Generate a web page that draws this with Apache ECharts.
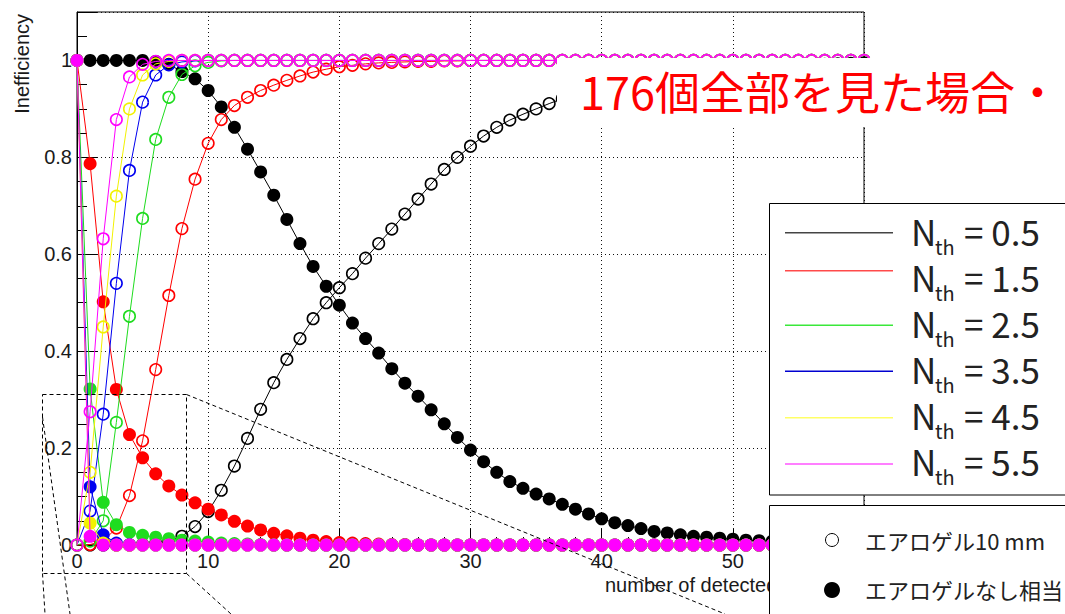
<!DOCTYPE html>
<html>
<head>
<meta charset="utf-8">
<script src="https://cdn.jsdelivr.net/npm/echarts@6/dist/echarts.min.js"></script>
<style>
html, body { margin: 0; padding: 0; background: #fff; }
#chart { width: 1065px; height: 614px; }
</style>
</head>
<body>
<div id="chart"></div>
<script>
// Number of detected photons
const nDetected = [
  0, 1, 2, 3, 4, 5, 6, 7, 8, 9,
  10, 11, 12, 13, 14, 15, 16, 17, 18, 19,
  20, 21, 22, 23, 24, 25, 26, 27, 28, 29,
  30, 31, 32, 33, 34, 35, 36, 37, 38, 39,
  40, 41, 42, 43, 44, 45, 46, 47, 48, 49,
  50, 51, 52, 53, 54, 55, 56, 57, 58, 59,
  60
];

// Thresholds N_th
const thresholds = ['0.5', '1.5', '2.5', '3.5', '4.5', '5.5'];

// Y axis ticks
const yTicks = [0, 0.2, 0.4, 0.6, 0.8, 1];

// Inefficiency with 10 mm aerogel (open markers)
const aerogel05 = [
  0, 0, 0, 0, 0, 0.001, 0.003, 0.008, 0.018, 0.038,
  0.069, 0.113, 0.163, 0.220, 0.280, 0.335, 0.383, 0.426, 0.467, 0.500,
  0.531, 0.560, 0.592, 0.622, 0.652, 0.683, 0.714, 0.745, 0.775, 0.800,
  0.823, 0.844, 0.862, 0.877, 0.889, 0.900, 0.911, 0.921, 0.930, 0.938,
  0.945, 0.951, 0.957, 0.962, 0.966, 0.970, 0.973, 0.976, 0.979, 0.981,
  0.983, 0.985, 0.987, 0.988, 0.989, 0.990, 0.991, 0.992, 0.993, 0.994,
  0.995
];
const aerogel15 = [
  0, 0.001, 0.008, 0.035, 0.102, 0.215, 0.362, 0.515, 0.653, 0.755,
  0.829, 0.878, 0.907, 0.924, 0.938, 0.949, 0.959, 0.968, 0.976, 0.982,
  0.987, 0.990, 0.993, 0.995, 0.996, 0.997, 0.998, 0.998, 0.999, 0.999,
  1, 1, 1, 1, 1, 1, 1, 1, 1, 1,
  1, 1, 1, 1, 1, 1, 1, 1, 1, 1,
  1, 1, 1, 1, 1, 1, 1, 1, 1, 1,
  1
];
const aerogel25 = [
  0, 0.008, 0.05, 0.253, 0.472, 0.674, 0.837, 0.924, 0.971, 0.989,
  0.996, 0.999, 1, 1, 1, 1, 1, 1, 1, 1,
  1, 1, 1, 1, 1, 1, 1, 1, 1, 1,
  1, 1, 1, 1, 1, 1, 1, 1, 1, 1,
  1, 1, 1, 1, 1, 1, 1, 1, 1, 1,
  1, 1, 1, 1, 1, 1, 1, 1, 1, 1,
  1
];
const aerogel35 = [
  0, 0.07, 0.27, 0.54, 0.773, 0.914, 0.970, 0.991, 0.997, 0.999,
  1, 1, 1, 1, 1, 1, 1, 1, 1, 1,
  1, 1, 1, 1, 1, 1, 1, 1, 1, 1,
  1, 1, 1, 1, 1, 1, 1, 1, 1, 1,
  1, 1, 1, 1, 1, 1, 1, 1, 1, 1,
  1, 1, 1, 1, 1, 1, 1, 1, 1, 1,
  1
];
const aerogel45 = [
  0, 0.15, 0.45, 0.72, 0.90, 0.97, 0.993, 0.998, 1, 1,
  1, 1, 1, 1, 1, 1, 1, 1, 1, 1,
  1, 1, 1, 1, 1, 1, 1, 1, 1, 1,
  1, 1, 1, 1, 1, 1, 1, 1, 1, 1,
  1, 1, 1, 1, 1, 1, 1, 1, 1, 1,
  1, 1, 1, 1, 1, 1, 1, 1, 1, 1,
  1
];
const aerogel55 = [
  0, 0.275, 0.632, 0.878, 0.966, 0.992, 0.998, 1, 1, 1,
  1, 1, 1, 1, 1, 1, 1, 1, 1, 1,
  1, 1, 1, 1, 1, 1, 1, 1, 1, 1,
  1, 1, 1, 1, 1, 1, 1, 1, 1, 1,
  1, 1, 1, 1, 1, 1, 1, 1, 1, 1,
  1, 1, 1, 1, 1, 1, 1, 1, 1, 1,
  1
];

// Inefficiency without aerogel (filled markers)
const noAerogel05 = [
  1, 1, 1, 1, 1, 1, 0.998, 0.992, 0.977, 0.962,
  0.938, 0.904, 0.862, 0.817, 0.770, 0.722, 0.672, 0.622, 0.575, 0.534,
  0.495, 0.458, 0.426, 0.396, 0.364, 0.334, 0.307, 0.279, 0.250, 0.222,
  0.196, 0.172, 0.150, 0.131, 0.117, 0.105, 0.095, 0.084, 0.074, 0.064,
  0.054, 0.046, 0.040, 0.034, 0.028, 0.025, 0.021, 0.018, 0.016, 0.014,
  0.012, 0.010, 0.009, 0.008, 0.007, 0.006, 0.005, 0.004, 0.004, 0.003,
  0.003
];
const noAerogel15 = [
  1, 0.787, 0.502, 0.321, 0.228, 0.180, 0.147, 0.122, 0.103, 0.087,
  0.074, 0.062, 0.049, 0.039, 0.031, 0.024, 0.019, 0.014, 0.010, 0.007,
  0.005, 0.004, 0.003, 0.002, 0.001, 0.001, 0, 0, 0, 0,
  0, 0, 0, 0, 0, 0, 0, 0, 0, 0,
  0, 0, 0, 0, 0, 0, 0, 0, 0, 0,
  0, 0, 0, 0, 0, 0, 0, 0, 0, 0,
  0
];
const noAerogel25 = [
  1, 0.322, 0.088, 0.042, 0.026, 0.020, 0.016, 0.013, 0.010, 0.008,
  0.006, 0.004, 0.003, 0.002, 0.001, 0, 0, 0, 0, 0,
  0, 0, 0, 0, 0, 0, 0, 0, 0, 0,
  0, 0, 0, 0, 0, 0, 0, 0, 0, 0,
  0, 0, 0, 0, 0, 0, 0, 0, 0, 0,
  0, 0, 0, 0, 0, 0, 0, 0, 0, 0,
  0
];
const noAerogel35 = [
  1, 0.12, 0.021, 0.004, 0.001, 0, 0, 0, 0, 0,
  0, 0, 0, 0, 0, 0, 0, 0, 0, 0,
  0, 0, 0, 0, 0, 0, 0, 0, 0, 0,
  0, 0, 0, 0, 0, 0, 0, 0, 0, 0,
  0, 0, 0, 0, 0, 0, 0, 0, 0, 0,
  0, 0, 0, 0, 0, 0, 0, 0, 0, 0,
  0
];
const noAerogel45 = [
  1, 0.045, 0.004, 0, 0, 0, 0, 0, 0, 0,
  0, 0, 0, 0, 0, 0, 0, 0, 0, 0,
  0, 0, 0, 0, 0, 0, 0, 0, 0, 0,
  0, 0, 0, 0, 0, 0, 0, 0, 0, 0,
  0, 0, 0, 0, 0, 0, 0, 0, 0, 0,
  0, 0, 0, 0, 0, 0, 0, 0, 0, 0,
  0
];
const noAerogel55 = [
  1, 0.018, 0, 0, 0, 0, 0, 0, 0, 0,
  0, 0, 0, 0, 0, 0, 0, 0, 0, 0,
  0, 0, 0, 0, 0, 0, 0, 0, 0, 0,
  0, 0, 0, 0, 0, 0, 0, 0, 0, 0,
  0, 0, 0, 0, 0, 0, 0, 0, 0, 0,
  0, 0, 0, 0, 0, 0, 0, 0, 0, 0,
  0
];

const withAerogel = [aerogel05, aerogel15, aerogel25, aerogel35, aerogel45, aerogel55];
const withoutAerogel = [noAerogel05, noAerogel15, noAerogel25, noAerogel35, noAerogel45, noAerogel55];

// Texts
const yTitle = 'Inefficiency';
const xTitle = 'number of detected photons';
const noteText = '176個全部を見た場合・';
const markerLegend = ['エアロゲル10 mm', 'エアロゲルなし相当'];

// Styling
const lineColors = ['#000000', '#ff0000', '#1fdc1f', '#0000f0', '#f2f200', '#ff00ff'];
const legendLineColors = ['#444444', '#ff4a4a', '#3ae83a', '#0000d0', '#ffff66', '#ff55ff'];
const axisFont = "'Liberation Sans', Arial, Helvetica, sans-serif";
const jpFont = "'Noto Sans CJK JP', 'Noto Sans', sans-serif";

const series = [];
thresholds.forEach((t, i) => {
  const c = lineColors[i];
  series.push({
    type: 'line',
    name: 'N_th = ' + t + ' ' + markerLegend[1],
    data: nDetected.map((x, k) => [x, withoutAerogel[i][k]]),
    symbol: 'circle',
    symbolSize: 13,
    showSymbol: true,
    showAllSymbol: true,
    clip: false,
    silent: true,
    animation: false,
    lineStyle: { color: c, width: 1 },
    itemStyle: { color: c, borderWidth: 0 },
    emphasis: { disabled: true },
    z: 2 + i * 2
  });
  series.push({
    type: 'line',
    name: 'N_th = ' + t + ' ' + markerLegend[0],
    data: nDetected.map((x, k) => [x, withAerogel[i][k]]),
    symbol: 'circle',
    symbolSize: 11.5,
    showSymbol: true,
    showAllSymbol: true,
    clip: false,
    silent: true,
    animation: false,
    lineStyle: { color: c, width: 1 },
    itemStyle: { color: 'rgba(255,255,255,0)', borderColor: c, borderWidth: 1.6 },
    emphasis: { disabled: true },
    z: 3 + i * 2
  });
});

// Overlay drawings: zoom callout, note box, legends, axis titles
const graphics = [];
const Z = 100;
const dash = { fill: null, stroke: '#000', lineWidth: 1, lineDash: [4, 3] };

graphics.push({ type: 'rect', z: Z, shape: { x: 42.5, y: 394.5, width: 144, height: 179 }, style: Object.assign({}, dash, { fill: 'none' }) });
[[42.5, 573.5, 45, 614], [42.5, 417, 70, 614], [186.5, 394.5, 725, 614], [186.5, 573.5, 231, 614]].forEach(l => {
  graphics.push({ type: 'line', z: Z, shape: { x1: l[0], y1: l[1], x2: l[2], y2: l[3] }, style: dash });
});

// axis titles
graphics.push({
  type: 'text', z: Z, x: 22, y: 14, rotation: Math.PI / 2,
  style: { text: yTitle, font: '20px ' + axisFont, fill: '#1a1a1a', textAlign: 'right', align: 'right', textVerticalAlign: 'middle', verticalAlign: 'middle' }
});
graphics.push({
  type: 'text', z: Z, x: 605, y: 585,
  style: { text: xTitle, font: '20px ' + axisFont, fill: '#1a1a1a', textAlign: 'left', align: 'left', textVerticalAlign: 'middle', verticalAlign: 'middle' }
});

// note box
graphics.push({ type: 'rect', z: Z + 1, shape: { x: 557, y: 58, width: 520, height: 69 }, style: { fill: '#fff', stroke: null } });
graphics.push({
  type: 'text', z: Z + 2, x: 580, y: 90,
  style: { text: noteText, font: '45px ' + jpFont, fill: '#ff0000', textAlign: 'left', align: 'left', textVerticalAlign: 'middle', verticalAlign: 'middle' }
});

// threshold legend
graphics.push({ type: 'rect', z: Z + 1, shape: { x: 769.5, y: 203.5, width: 310, height: 291.5 }, style: { fill: '#fff', stroke: '#000', lineWidth: 1 } });
const legendTextY = [230.5, 276.5, 322.5, 368.5, 414.5, 460.5];
const legendLineY = [232.7, 270.7, 325.3, 371.3, 417.7, 464];
thresholds.forEach((t, i) => {
  graphics.push({ type: 'line', z: Z + 2, shape: { x1: 785, y1: legendLineY[i], x2: 893, y2: legendLineY[i] }, style: { stroke: legendLineColors[i], lineWidth: 1.5 } });
  graphics.push({ type: 'text', z: Z + 2, x: 911, y: legendTextY[i],
    style: { text: 'N', font: '35px ' + jpFont, fill: '#222', textAlign: 'left', align: 'left', textVerticalAlign: 'middle', verticalAlign: 'middle' } });
  graphics.push({ type: 'text', z: Z + 2, x: 935, y: legendTextY[i] + 16,
    style: { text: 'th', font: '20px ' + jpFont, fill: '#222', textAlign: 'left', align: 'left', textVerticalAlign: 'middle', verticalAlign: 'middle' } });
  graphics.push({ type: 'text', z: Z + 2, x: 964, y: legendTextY[i],
    style: { text: '= ' + t, font: '35px ' + jpFont, fill: '#222', textAlign: 'left', align: 'left', textVerticalAlign: 'middle', verticalAlign: 'middle' } });
});

// marker legend
graphics.push({ type: 'rect', z: Z + 1, shape: { x: 769.5, y: 505.5, width: 310, height: 130 }, style: { fill: '#fff', stroke: '#000', lineWidth: 1 } });
graphics.push({ type: 'circle', z: Z + 2, shape: { cx: 832, cy: 540, r: 6.5 }, style: { fill: '#fff', stroke: '#000', lineWidth: 1 } });
graphics.push({ type: 'circle', z: Z + 2, shape: { cx: 832, cy: 590, r: 8 }, style: { fill: '#000', stroke: null } });
[540, 589].forEach((y, i) => {
  graphics.push({ type: 'text', z: Z + 2, x: 865, y: y,
    style: { text: markerLegend[i], font: '22px ' + jpFont, fill: '#222', textAlign: 'left', align: 'left', textVerticalAlign: 'middle', verticalAlign: 'middle' } });
});

const gridDots = { color: '#111', width: 1, type: [1, 3] };

const option = {
  backgroundColor: '#fff',
  animation: false,
  grid: { left: 77, top: 12, width: 787, height: 533, show: true, borderColor: '#000', borderWidth: 1, backgroundColor: 'transparent' },
  xAxis: {
    type: 'value', min: 0, max: 60, interval: 10,
    axisLine: { show: true, onZero: false, lineStyle: { color: '#000', width: 1 } },
    axisTick: { show: true, inside: true, length: 16, lineStyle: { color: '#000' } },
    minorTick: { show: true, splitNumber: 5, length: 8, lineStyle: { color: '#000' } },
    axisLabel: { margin: 6, fontSize: 20, fontFamily: axisFont, color: '#1a1a1a', showMaxLabel: false },
    splitLine: { show: true, lineStyle: gridDots }
  },
  yAxis: {
    type: 'value', min: 0, max: 1.1, interval: 0.2,
    axisLine: { show: true, onZero: false, lineStyle: { color: '#000', width: 1 } },
    axisTick: { show: true, inside: true, length: 20, lineStyle: { color: '#000' } },
    minorTick: { show: true, splitNumber: 4, length: 10, lineStyle: { color: '#000' } },
    axisLabel: {
      margin: 5, fontSize: 20, fontFamily: axisFont, color: '#1a1a1a', showMaxLabel: false,
      formatter: v => (yTicks.some(t => Math.abs(t - v) < 1e-9) ? String(+v.toFixed(1)) : '')
    },
    splitLine: { show: true, lineStyle: gridDots }
  },
  series: series,
  graphic: { elements: graphics }
};

const chart = echarts.init(document.getElementById('chart'), null, { renderer: 'svg' });
chart.setOption(option);
</script>
</body>
</html>
